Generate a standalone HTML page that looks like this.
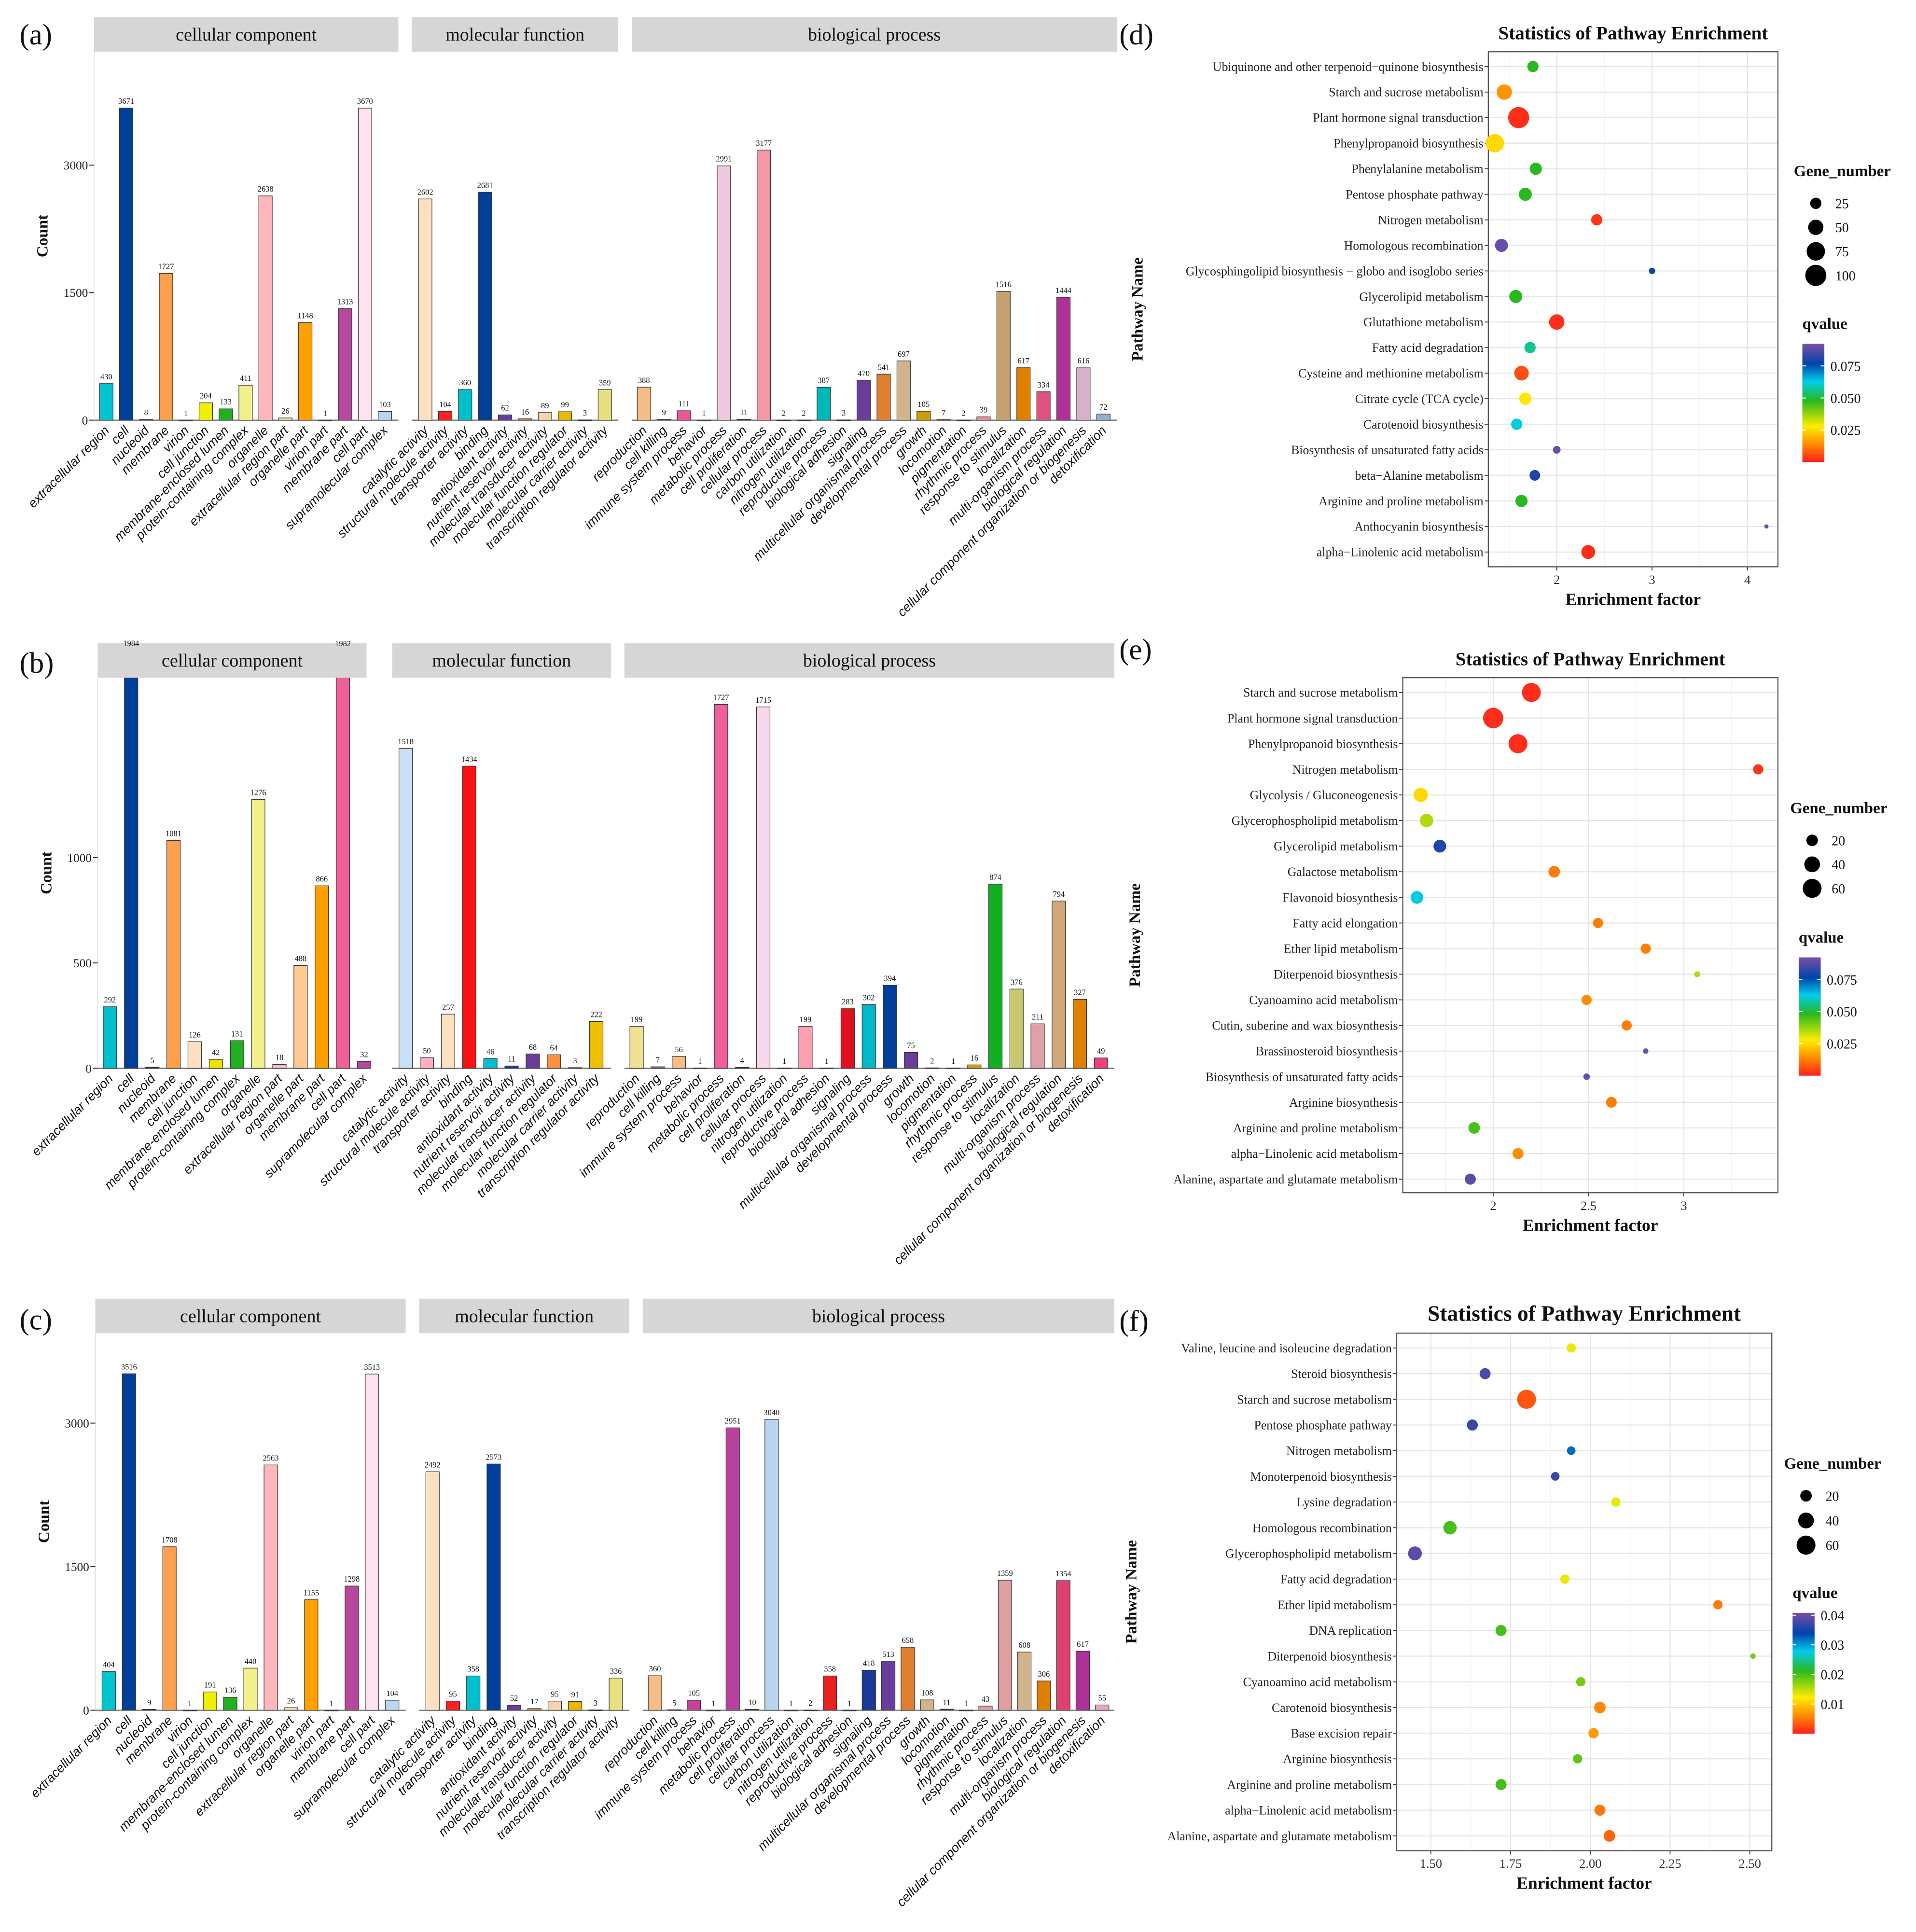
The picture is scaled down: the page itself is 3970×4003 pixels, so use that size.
<!DOCTYPE html>
<html><head><meta charset="utf-8"><style>
html,body{margin:0;padding:0;background:#fff}
svg{display:block}
</style></head><body>
<svg id="fig" xmlns="http://www.w3.org/2000/svg" width="3970" height="4003" viewBox="0 0 1568 1568" preserveAspectRatio="none" font-family="Liberation Serif, serif">
<rect x="0" y="0" width="1568" height="1568" fill="#fff"/>
<g id="root"></g>
</svg>
<script>
// ---------- GO data ----------
const ccCats=["extracellular region","cell","nucleoid","membrane","virion","cell junction","membrane-enclosed lumen","protein-containing complex","organelle","extracellular region part","organelle part","virion part","membrane part","cell part","supramolecular complex"];
const ccCatsB=["extracellular region","cell","nucleoid","membrane","cell junction","membrane-enclosed lumen","protein-containing complex","organelle","extracellular region part","organelle part","membrane part","cell part","supramolecular complex"];
const mfCats=["catalytic activity","structural molecule activity","transporter activity","binding","antioxidant activity","nutrient reservoir activity","molecular transducer activity","molecular function regulator","molecular carrier activity","transcription regulator activity"];
const bpCats=["reproduction","cell killing","immune system process","behavior","metabolic process","cell proliferation","cellular process","carbon utilization","nitrogen utilization","reproductive process","biological adhesion","signaling","multicellular organismal process","developmental process","growth","locomotion","pigmentation","rhythmic process","response to stimulus","localization","multi-organism process","biological regulation","cellular component organization or biogenesis","detoxification"];
const bpCatsB=["reproduction","cell killing","immune system process","behavior","metabolic process","cell proliferation","cellular process","nitrogen utilization","reproductive process","biological adhesion","signaling","multicellular organismal process","developmental process","growth","locomotion","pigmentation","rhythmic process","response to stimulus","localization","multi-organism process","biological regulation","cellular component organization or biogenesis","detoxification"];

const ccA=[430,3671,8,1727,1,204,133,411,2638,26,1148,1,1313,3670,103];
const mfA=[2602,104,360,2681,62,16,89,99,3,359];
const bpA=[388,9,111,1,2991,11,3177,2,2,387,3,470,541,697,105,7,2,39,1516,617,334,1444,616,72];
const ccB=[292,1984,5,1081,126,42,131,1276,18,488,866,1982,32];
const mfB=[1518,50,257,1434,46,11,68,64,3,222];
const bpB=[199,7,56,1,1727,4,1715,1,199,1,283,302,394,75,2,1,16,874,376,211,794,327,49];
const ccC=[404,3516,9,1708,1,191,136,440,2563,26,1155,1,1298,3513,104];
const mfC=[2492,95,358,2573,52,17,95,91,3,336];
const bpC=[360,5,105,1,2951,10,3040,1,2,358,1,418,513,658,108,11,1,43,1359,608,306,1354,617,55];
const ticksAC=[0,1500,3000];
const ticksB=[0,500,1000];

// colors (style)
const ccColA=["#00c5d0","#003f9a","#333","#ffa04d","#888","#f0f000","#22b022","#f2f08a","#ffb6bc","#f0d5b0","#ffa000","#888","#b8479e","#fde2ef","#b8d8f0"];
const mfColA=["#fde0c0","#ff2020","#00c0cc","#003f9a","#6a3d9a","#e08030","#f5d5b0","#e8b800","#888","#e8e080"];
const bpColA=["#f5be88","#444","#f0559a","#888","#f0c8e0","#444","#f59aa5","#888","#888","#00b8b8","#888","#6a3d9a","#e07f30","#d2b48c","#c8a000","#444","#888","#e89090","#c8a070","#e08000","#e05080","#b0309a","#d8b0cc","#90b0d0"];
const ccColB=["#00c0d0","#003f9a","#333","#ffa04d","#fde0c0","#f0e000","#22b022","#f2f08a","#ffc0c8","#ffc890","#ffa000","#f0609a","#b8479e"];
const mfColB=["#c8e0f5","#ffb0c0","#fde0c0","#ff1010","#00c0d0","#1a3a9a","#6a3d9a","#ff9040","#444","#f0c000"];
const bpColB=["#f0e090","#666","#f5be88","#888","#f0609a","#444","#f8d8ec","#888","#ffa0b0","#888","#e01020","#00b8c8","#003f9a","#6a3d9a","#444","#888","#c8a000","#10b020","#c8c870","#e0a0a8","#d2a878","#e08000","#f04080"];
const ccColC=ccColA;
const mfColC=["#fde0c0","#ff2020","#00c0cc","#003f9a","#6a3d9a","#e08030","#f5d5b0","#e8b800","#888","#e8e080"];
const bpColC=["#f5be88","#444","#c8409e","#888","#b8409e","#444","#b8d4f0","#888","#888","#e82020","#888","#1a3a9a","#6a3d9a","#e07f30","#d2b48c","#444","#888","#e0a0a0","#e0a0a0","#d2b48c","#e08000","#e04070","#b0309a","#f0a0c0"];

// ---------- Enrichment data ----------
const dPath=["Ubiquinone and other terpenoid−quinone biosynthesis","Starch and sucrose metabolism","Plant hormone signal transduction","Phenylpropanoid biosynthesis","Phenylalanine metabolism","Pentose phosphate pathway","Nitrogen metabolism","Homologous recombination","Glycosphingolipid biosynthesis − globo and isoglobo series","Glycerolipid metabolism","Glutathione metabolism","Fatty acid degradation","Cysteine and methionine metabolism","Citrate cycle (TCA cycle)","Carotenoid biosynthesis","Biosynthesis of unsaturated fatty acids","beta−Alanine metabolism","Arginine and proline metabolism","Anthocyanin biosynthesis","alpha−Linolenic acid metabolism"];
const dFactor=[1.75,1.45,1.60,1.35,1.78,1.67,2.42,1.42,3.00,1.57,2.00,1.72,1.63,1.67,1.58,2.00,1.77,1.63,4.20,2.33];
const dGenes=[25,50,100,75,30,35,25,35,6,35,50,25,45,30,25,10,22,30,2,40];
const dQ=[0.048,0.015,0.002,0.025,0.048,0.048,0.003,0.09,0.078,0.048,0.002,0.056,0.006,0.027,0.062,0.09,0.08,0.048,0.09,0.002];
const dTicks=[2,3,4];
const dQTicks=[0.025,0.050,0.075];
const dSizeTicks=[25,50,75,100];

const ePath=["Starch and sucrose metabolism","Plant hormone signal transduction","Phenylpropanoid biosynthesis","Nitrogen metabolism","Glycolysis / Gluconeogenesis","Glycerophospholipid metabolism","Glycerolipid metabolism","Galactose metabolism","Flavonoid biosynthesis","Fatty acid elongation","Ether lipid metabolism","Diterpenoid biosynthesis","Cyanoamino acid metabolism","Cutin, suberine and wax biosynthesis","Brassinosteroid biosynthesis","Biosynthesis of unsaturated fatty acids","Arginine biosynthesis","Arginine and proline metabolism","alpha−Linolenic acid metabolism","Alanine, aspartate and glutamate metabolism"];
const eFactor=[2.20,2.00,2.13,3.39,1.62,1.65,1.72,2.32,1.60,2.55,2.80,3.07,2.49,2.70,2.80,2.49,2.62,1.90,2.13,1.88];
const eGenes=[60,70,60,15,32,28,25,20,25,15,15,4,15,15,3,5,17,20,18,18];
const eQ=[0.002,0.002,0.002,0.003,0.025,0.035,0.08,0.012,0.062,0.012,0.012,0.035,0.014,0.012,0.09,0.09,0.012,0.045,0.014,0.088];
const eTicks=[2.0,2.5,3.0];
const eQTicks=[0.025,0.050,0.075];
const eSizeTicks=[20,40,60];

const fPath=["Valine, leucine and isoleucine degradation","Steroid biosynthesis","Starch and sucrose metabolism","Pentose phosphate pathway","Nitrogen metabolism","Monoterpenoid biosynthesis","Lysine degradation","Homologous recombination","Glycerophospholipid metabolism","Fatty acid degradation","Ether lipid metabolism","DNA replication","Diterpenoid biosynthesis","Cyanoamino acid metabolism","Carotenoid biosynthesis","Base excision repair","Arginine biosynthesis","Arginine and proline metabolism","alpha−Linolenic acid metabolism","Alanine, aspartate and glutamate metabolism"];
const fFactor=[1.94,1.67,1.80,1.63,1.94,1.89,2.08,1.56,1.45,1.92,2.40,1.72,2.51,1.97,2.03,2.01,1.96,1.72,2.03,2.06];
const fGenes=[12,18,60,18,10,10,12,28,30,12,12,18,3,12,20,15,12,18,18,20];
const fQ=[0.013,0.038,0.003,0.037,0.032,0.037,0.013,0.02,0.039,0.013,0.005,0.02,0.018,0.018,0.006,0.007,0.019,0.02,0.005,0.004];
const fTicks=[1.50,1.75,2.00,2.25,2.50];
const fTickLabels=["1.50","1.75","2.00","2.25","2.50"];
const fQTicks=[0.01,0.02,0.03,0.04];
const fSizeTicks=[20,40,60];

// ---------- helpers ----------
const NS="http://www.w3.org/2000/svg";
const root=document.getElementById('root');
function mk(tag,attrs,parent,text){const e=document.createElementNS(NS,tag);for(const k in attrs)e.setAttribute(k,attrs[k]);if(text!==undefined)e.textContent=text;(parent||root).appendChild(e);return e;}

const stops=[[0,[255,30,30]],[0.15,[255,140,0]],[0.3,[255,236,0]],[0.52,[40,185,30]],[0.68,[0,205,235]],[0.83,[0,68,170]],[1,[124,78,168]]];
function qcol(t){t=Math.max(0,Math.min(1,t));for(let i=1;i<stops.length;i++){if(t<=stops[i][0]){const a=stops[i-1],b=stops[i];const u=(t-a[0])/(b[0]-a[0]);const c=a[1].map((v,j)=>Math.round(v+(b[1][j]-v)*u));return `rgb(${c[0]},${c[1]},${c[2]})`;}}return 'rgb(124,78,168)';}

function panelLetter(x,y,t){const e=mk('text',{x:x,y:y,'font-size':24,fill:'#111'},root,t);}

// ---------- bar panel ----------
function barPanel(id,cfg){
  const g=mk('g',{});
  
  
  const yS=v=>cfg.base-v*cfg.k;
  const clipId='clip'+id;
  const cp=mk('clipPath',{id:clipId},g);mk('rect',{x:0,y:cfg.top,width:1568,height:cfg.base-cfg.top+1},cp);
  cfg.groups.forEach((gr,gi)=>{
    const s=mk('rect',{x:gr.x0,y:cfg.top-28,width:gr.x1-gr.x0,height:28,fill:'#d6d6d6'},g);
    
    
    const st=mk('text',{x:(gr.x0+gr.x1)/2,y:cfg.top-9,'font-size':15,'text-anchor':'middle',fill:'#111'},g,gr.label);
    
    
    mk('line',{x1:gr.x0,x2:gr.x1,y1:cfg.base,y2:cfg.base,stroke:'#555','stroke-width':0.8},g);
    const step=(gr.cl-gr.c0)/(gr.cats.length-1);
    gr.cats.forEach((c,i)=>{
      const cx=gr.c0+i*step,v=gr.vals[i];
      const r=mk('rect',{x:cx-5.5,y:yS(v),width:11,height:Math.max(0.6,v*cfg.k),fill:gr.cols[i],stroke:'#333','stroke-width':0.5,'clip-path':`url(#${clipId})`},g);
      
      
      const ly=Math.max(yS(v),cfg.top-28)-3.5;
      const vl=mk('text',{x:cx,y:ly,'font-size':6.5,'text-anchor':'middle',fill:'#111'},g,String(v));
      
      
      const xl=mk('text',{x:cx+3,y:cfg.base+9,'font-size':10.5,'font-style':'italic','font-family':'Liberation Sans, sans-serif','text-anchor':'end',fill:'#111',transform:`rotate(-45 ${cx+3} ${cfg.base+9})`},g,c);
      
      
    });
  });
  mk('line',{x1:cfg.groups[0].x0,x2:cfg.groups[0].x0,y1:cfg.top,y2:cfg.base,stroke:'#ddd','stroke-width':0.6},g);
  cfg.ticks.forEach(t=>{
    mk('line',{x1:cfg.groups[0].x0-4,x2:cfg.groups[0].x0,y1:yS(t),y2:yS(t),stroke:'#333','stroke-width':0.8},g);
    const tl=mk('text',{x:cfg.groups[0].x0-5,y:yS(t)+3.5,'font-size':10,'text-anchor':'end',fill:'#222'},g,String(t));
    
    
  });
  const yt=mk('text',{x:cfg.groups[0].x0-38,y:(cfg.top+cfg.base)/2,'font-size':13,'font-weight':'bold','text-anchor':'middle',fill:'#111',transform:`rotate(-90 ${cfg.groups[0].x0-38} ${(cfg.top+cfg.base)/2})`},g,'Count');
  
  
}

barPanel('a',{top:42,base:341,k:207/3000,ticks:ticksAC,groups:[
 {label:'cellular component',x0:77,x1:326,c0:87,cl:315,cats:ccCats,vals:ccA,cols:ccColA},
 {label:'molecular function',x0:337,x1:506,c0:348,cl:495,cats:mfCats,vals:mfA,cols:mfColA},
 {label:'biological process',x0:517,x1:914,c0:527,cl:903,cats:bpCats,vals:bpA,cols:bpColA}]});
barPanel('b',{top:550,base:867,k:171/1000,ticks:ticksB,groups:[
 {label:'cellular component',x0:80,x1:300,c0:90,cl:298,cats:ccCatsB,vals:ccB,cols:ccColB},
 {label:'molecular function',x0:321,x1:500,c0:332,cl:488,cats:mfCats,vals:mfB,cols:mfColB},
 {label:'biological process',x0:511,x1:912,c0:521,cl:901,cats:bpCatsB,vals:bpB,cols:bpColB}]});
barPanel('c',{top:1082,base:1388,k:233/3000,ticks:ticksAC,groups:[
 {label:'cellular component',x0:78,x1:332,c0:89,cl:321,cats:ccCats,vals:ccC,cols:ccColC},
 {label:'molecular function',x0:343,x1:515,c0:354,cl:504,cats:mfCats,vals:mfC,cols:mfColC},
 {label:'biological process',x0:526,x1:912,c0:536,cl:902,cats:bpCats,vals:bpC,cols:bpColC}]});

// ---------- dot panel ----------
function dotPanel(id,cfg){
  const g=mk('g',{});
  
  
  const xS=v=>cfg.px0+(v-cfg.v0)*cfg.kx;
  const n=cfg.paths.length;
  const yS=i=>cfg.y0+i*(cfg.y1-cfg.y0)/(n-1);
  const ti=mk('text',{x:(cfg.bx0+cfg.bx1)/2,y:cfg.by0-10,'font-size':cfg.tsize,'font-weight':'bold','text-anchor':'middle',fill:'#111'},g,'Statistics of Pathway Enrichment');
  
  
  mk('rect',{x:cfg.bx0,y:cfg.by0,width:cfg.bx1-cfg.bx0,height:cfg.by1-cfg.by0,fill:'#fff'},g);
  for(let i=0;i<cfg.ticks.length+1;i++){const v=cfg.ticks[0]+(i-0.5)*(cfg.ticks[1]-cfg.ticks[0]);const x=xS(v);if(x>cfg.bx0&&x<cfg.bx1)mk('line',{x1:x,x2:x,y1:cfg.by0,y2:cfg.by1,stroke:'#f2f2f2','stroke-width':0.6},g);}
  cfg.ticks.forEach((t,i)=>{const x=xS(t);mk('line',{x1:x,x2:x,y1:cfg.by0,y2:cfg.by1,stroke:'#e6e6e6','stroke-width':0.9},g);
    mk('line',{x1:x,x2:x,y1:cfg.by1,y2:cfg.by1+3,stroke:'#333','stroke-width':0.7},g);
    const tl=mk('text',{x:x,y:cfg.by1+14,'font-size':10.5,'text-anchor':'middle',fill:'#333'},g,cfg.tickLabels?cfg.tickLabels[i]:String(t));
    
    });
  cfg.paths.forEach((p,i)=>{const y=yS(i);mk('line',{x1:cfg.bx0,x2:cfg.bx1,y1:y,y2:y,stroke:'#e6e6e6','stroke-width':0.9},g);
    mk('line',{x1:cfg.bx0-3,x2:cfg.bx0,y1:y,y2:y,stroke:'#333','stroke-width':0.7},g);
    const l=mk('text',{x:cfg.bx0-4,y:y+3.5,'font-size':10.2,'text-anchor':'end',fill:'#222'},g,p);
    
    
    const maxW=cfg.bx0-4-cfg.labelMin;
    if(l.getComputedTextLength()>maxW){l.setAttribute('textLength',maxW);l.setAttribute('lengthAdjust','spacingAndGlyphs');}
  });
  mk('rect',{x:cfg.bx0,y:cfg.by0,width:cfg.bx1-cfg.bx0,height:cfg.by1-cfg.by0,fill:'none',stroke:'#555','stroke-width':0.9},g);
  cfg.paths.forEach((p,i)=>{
    const c=mk('circle',{cx:xS(cfg.fac[i]),cy:yS(i),r:cfg.rk*Math.sqrt(cfg.genes[i])+0.6,fill:qcol(cfg.q[i]/cfg.qmax)},g);
    
    
  });
  const xt=mk('text',{x:(cfg.bx0+cfg.bx1)/2,y:cfg.by1+31,'font-size':14,'font-weight':'bold','text-anchor':'middle',fill:'#111'},g,'Enrichment factor');
  
  
  const yx=cfg.ytx,yy=(cfg.by0+cfg.by1)/2;
  const yt=mk('text',{x:yx,y:yy,'font-size':13,'font-weight':'bold','text-anchor':'middle',fill:'#111',transform:`rotate(-90 ${yx} ${yy})`},g,'Pathway Name');
  
  
  const L=cfg.leg;
  const gt=mk('text',{x:L.x,y:L.gy,'font-size':13,'font-weight':'bold',fill:'#111'},g,'Gene_number');
  
  
  cfg.sizeTicks.forEach((s,i)=>{const y=L.gy+22+i*L.gs;
    const d=mk('circle',{cx:L.x+18,cy:y,r:cfg.rk*Math.sqrt(s)+0.6,fill:'#000'},g);
    
    
    mk('text',{x:L.x+34,y:y+4,'font-size':11,fill:'#111'},g,String(s));});
  const qt=mk('text',{x:L.x+7,y:L.qy,'font-size':13,'font-weight':'bold',fill:'#111'},g,'qvalue');
  
  
  const gid='grad'+id;
  const gr=mk('linearGradient',{id:gid,x1:0,y1:1,x2:0,y2:0},g);
  stops.forEach(s=>mk('stop',{offset:s[0],'stop-color':`rgb(${s[1].join(',')})`},gr));
  const cb0=L.qy+12,cbH=L.cbh;
  const cb=mk('rect',{x:L.x+7,y:cb0,width:18,height:cbH,fill:`url(#${gid})`},g);
  
  
  cfg.qTicks.forEach(t=>{const y=cb0+cbH-(t/cfg.qmax)*cbH;
    mk('line',{x1:L.x+7,x2:L.x+10,y1:y,y2:y,stroke:'#fff','stroke-width':0.8},g);
    mk('line',{x1:L.x+22,x2:L.x+25,y1:y,y2:y,stroke:'#fff','stroke-width':0.8},g);
    mk('text',{x:L.x+30,y:y+4,'font-size':11,fill:'#111'},g,cfg.qFmt(t));});
}

dotPanel('d',{paths:dPath,fac:dFactor,genes:dGenes,q:dQ,ticks:dTicks,qTicks:dQTicks,sizeTicks:dSizeTicks,qmax:0.0923,qFmt:t=>t.toFixed(3),
  bx0:1218,bx1:1455,by0:42,by1:460,y0:54,y1:448,px0:1274,v0:2,kx:78,rk:0.8,tsize:15.5,ytx:935,labelMin:944,
  leg:{x:1468,gy:143,gs:19.5,qy:267,cbh:96}});
dotPanel('e',{paths:ePath,fac:eFactor,genes:eGenes,q:eQ,ticks:eTicks,qTicks:eQTicks,sizeTicks:eSizeTicks,qmax:0.0923,qFmt:t=>t.toFixed(3),
  bx0:1148,bx1:1455,by0:550,by1:968,y0:562,y1:957,px0:1222,v0:2,kx:156,rk:0.92,tsize:15.5,ytx:933,labelMin:944,
  leg:{x:1465,gy:660,gs:19.5,qy:765,cbh:96}});
dotPanel('f',{paths:fPath,fac:fFactor,genes:fGenes,q:fQ,ticks:fTicks,tickLabels:fTickLabels,qTicks:fQTicks,sizeTicks:fSizeTicks,qmax:0.0408,qFmt:t=>t.toFixed(2),
  bx0:1143,bx1:1450,by0:1082,by1:1502,y0:1094,y1:1490,px0:1171,v0:1.5,kx:261,rk:0.92,tsize:18,ytx:930,labelMin:940,
  leg:{x:1460,gy:1192,gs:20,qy:1297,cbh:98}});

panelLetter(16,36,'(a)');panelLetter(16,546,'(b)');panelLetter(16,1079,'(c)');
panelLetter(916,36,'(d)');panelLetter(916,535,'(e)');panelLetter(916,1080,'(f)');
</script>
</body></html>
